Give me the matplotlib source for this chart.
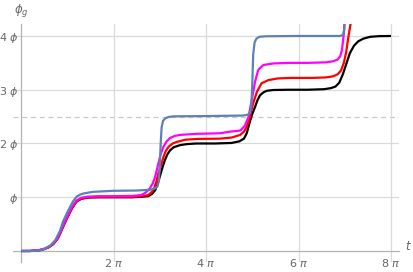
import numpy as np
import matplotlib
matplotlib.use("Agg")
import matplotlib.pyplot as plt

plt.rcParams['mathtext.fontset'] = 'dejavusans'
plt.rcParams['font.family'] = ['DejaVu Sans']

# ---- data (t in units of pi, phase in units of phi) ----
black_u = [0, 0.2, 0.4, 0.5, 0.6, 0.7, 0.8, 0.9, 1.0, 1.1, 1.2, 1.3, 1.45, 1.7, 2.0,
           2.4, 2.62, 2.75, 2.83, 2.9, 2.95, 3.0, 3.05, 3.11, 3.16, 3.22, 3.3, 3.44, 3.6, 3.8, 4.2,
           4.55, 4.72, 4.82, 4.88, 4.95, 5.0, 5.06, 5.11, 5.17, 5.24, 5.31, 5.45, 5.8, 6.2,
           6.55, 6.7, 6.8, 6.88, 6.96, 7.04, 7.11, 7.2, 7.29, 7.4, 7.55, 7.75, 8.0]
black_y = [0, 0, 0.015, 0.035, 0.07, 0.13, 0.24, 0.43, 0.62, 0.79, 0.92, 0.97, 0.995, 1.0, 1.0,
           1.0, 1.01, 1.02, 1.06, 1.13, 1.24, 1.38, 1.53, 1.69, 1.79, 1.87, 1.93, 1.97, 1.99, 2.0, 2.0,
           2.01, 2.04, 2.09, 2.19, 2.41, 2.55, 2.68, 2.8, 2.9, 2.95, 2.98, 2.995, 3.0, 3.0,
           3.01, 3.03, 3.06, 3.13, 3.29, 3.5, 3.68, 3.82, 3.9, 3.95, 3.985, 3.997, 4.0]

red_u = [0, 0.2, 0.4, 0.5, 0.6, 0.7, 0.8, 0.9, 1.0, 1.1, 1.2, 1.3, 1.45, 1.7, 2.0,
         2.4, 2.62, 2.75, 2.82, 2.88, 2.93, 2.97, 3.03, 3.08, 3.13, 3.19, 3.28, 3.37, 3.55, 3.8, 4.3,
         4.55, 4.74, 4.82, 4.88, 4.95, 5.02, 5.1, 5.2, 5.35, 5.55, 5.82, 6.3,
         6.6, 6.75, 6.85, 6.92, 6.98, 7.03, 7.08, 7.13, 7.18]
red_y = [0, 0, 0.015, 0.037, 0.073, 0.135, 0.245, 0.44, 0.63, 0.8, 0.925, 0.975, 1.0, 1.005, 1.005,
         1.005, 1.02, 1.04, 1.09, 1.17, 1.3, 1.45, 1.6, 1.75, 1.86, 1.94, 2.0, 2.03, 2.07, 2.085, 2.09,
         2.11, 2.16, 2.22, 2.31, 2.5, 2.75, 2.96, 3.12, 3.18, 3.21, 3.22, 3.22,
         3.23, 3.25, 3.29, 3.36, 3.5, 3.7, 3.99, 4.25, 4.6]

mag_u = [0, 0.2, 0.4, 0.5, 0.6, 0.7, 0.8, 0.9, 1.0, 1.1, 1.2, 1.3, 1.45, 1.7, 2.0,
         2.4, 2.6, 2.7, 2.79, 2.85, 2.9, 2.97, 3.02, 3.08, 3.15, 3.22, 3.32, 3.44, 3.8, 4.3,
         4.52, 4.74, 4.84, 4.92, 4.99, 5.06, 5.13, 5.24, 5.46, 5.8, 6.2,
         6.6, 6.75, 6.84, 6.9, 6.94, 6.98, 7.01]
mag_y = [0, 0.003, 0.02, 0.04, 0.078, 0.14, 0.25, 0.45, 0.645, 0.815, 0.94, 0.99, 1.012, 1.02, 1.02,
         1.025, 1.04, 1.09, 1.17, 1.26, 1.38, 1.63, 1.8, 1.94, 2.04, 2.1, 2.14, 2.16, 2.18, 2.19,
         2.22, 2.24, 2.33, 2.5, 2.81, 3.15, 3.37, 3.46, 3.49, 3.5, 3.5,
         3.51, 3.53, 3.56, 3.62, 3.74, 4.05, 4.4]

blue_u = [0, 0.2, 0.41, 0.5, 0.63, 0.74, 0.84, 0.91, 0.99, 1.06, 1.13, 1.2, 1.28, 1.35, 1.55, 2.0,
          2.5, 2.8, 2.9, 2.95, 2.98, 3.0, 3.02, 3.04, 3.07, 3.12, 3.2, 3.3, 4.0,
          4.8, 4.9, 4.95, 4.98, 5.0, 5.02, 5.05, 5.09, 5.15, 5.3, 6.0,
          6.9, 6.96, 6.985, 7.0]
blue_y = [0, 0, 0.01, 0.04, 0.1, 0.2, 0.37, 0.55, 0.7, 0.82, 0.93, 1.01, 1.05, 1.07, 1.1, 1.12,
          1.125, 1.14, 1.165, 1.2, 1.3, 1.55, 2.0, 2.3, 2.42, 2.47, 2.495, 2.505, 2.51,
          2.52, 2.535, 2.57, 2.7, 3.1, 3.65, 3.88, 3.95, 3.985, 3.995, 4.0,
          4.0, 4.02, 4.1, 4.4]

curves = [(black_u, black_y, 'black'),
          (red_u, red_y, '#ff0000'),
          (mag_u, mag_y, '#ff00ff'),
          (blue_u, blue_y, '#5e81b5')]

xtick_u = [2, 4, 6, 8]
xtick_labels = [r'2 $\pi$', r'4 $\pi$', r'6 $\pi$', r'8 $\pi$']
ytick_vals = [1, 2, 3, 4]
ytick_labels = [r'$\phi$', r'2 $\phi$', r'3 $\phi$', r'4 $\phi$']
dashed_level = 2.5

# ---- figure ----
fig = plt.figure(figsize=(4.13, 2.72), dpi=100)
ax = fig.add_axes([13/413, 1 - 261.7/272, (398.7 - 13)/413, (261.7 - 24)/272])

axis_col = '#b3b3b3'
grid_col = '#dadada'
text_col = '#666666'

for u, y, c in curves:
    ax.plot(np.array(u) * np.pi, y, color=c, lw=1.6, zorder=3, solid_capstyle='butt')

ax.set_xlim(-0.173 * np.pi, 8.166 * np.pi)
ax.set_ylim(-0.199, 4.223)

ax.axhline(dashed_level, color='#c8c8c8', lw=0.9, ls=(0, (4, 3)), zorder=1)

for xv in xtick_u:
    ax.axvline(xv * np.pi, color=grid_col, lw=0.9, zorder=1)
for yv in ytick_vals:
    ax.axhline(yv, color=grid_col, lw=0.9, zorder=1)

for s in ['top', 'right']:
    ax.spines[s].set_visible(False)
ax.spines['left'].set_position(('data', 0))
ax.spines['bottom'].set_position(('data', 0))
for s in ['left', 'bottom']:
    ax.spines[s].set_color(axis_col)
    ax.spines[s].set_linewidth(0.9)
    ax.spines[s].set_zorder(2)

ax.set_xticks(np.array(xtick_u) * np.pi)
ax.set_xticklabels(xtick_labels)
ax.set_yticks(ytick_vals)
ax.set_yticklabels(ytick_labels)
ax.tick_params(axis='both', length=0, colors=text_col, labelsize=8)
ax.tick_params(axis='x', pad=4)
ax.tick_params(axis='y', pad=2)
ax.patch.set_alpha(0)

fig.text(408/413, 1 - 246/272, r'$t$', color=text_col, fontsize=8.5, ha='center', va='center')
fig.text(21/413, 1 - 11/272, r'$\phi_g$', color=text_col, fontsize=8.5, ha='center', va='center')

fig.savefig('out.png', dpi=100)
